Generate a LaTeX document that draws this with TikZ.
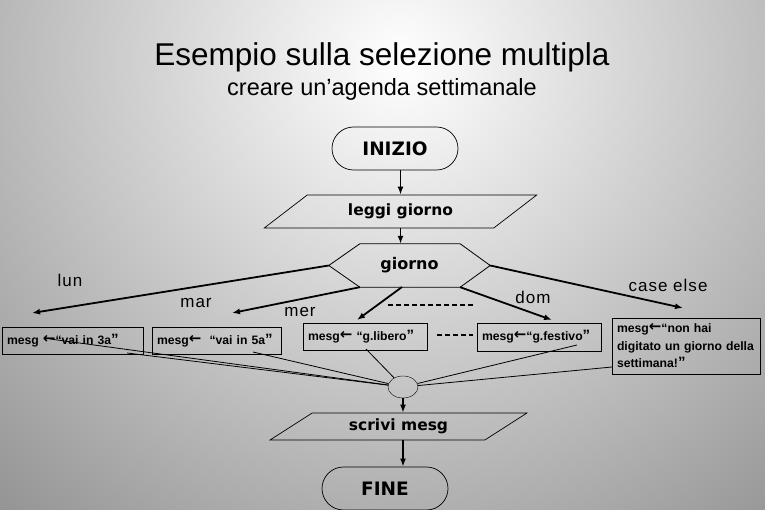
\documentclass[tikz,border=0pt]{standalone}
\usepackage{fontspec}
\setmainfont{Liberation Sans}
\newfontfamily\flowfont{DejaVu Sans}
\newfontfamily\symfont{DejaVu Sans}
\usetikzlibrary{positioning,arrows.meta,shapes.geometric,shapes.misc,calc}

\definecolor{bgouter}{RGB}{138,138,138}
\newcommand{\assign}{{\symfont\bfseries\fontsize{15}{15}\selectfont\raisebox{1pt}{←}}}
\newcommand{\closeq}{{\fontsize{15}{15}\selectfont”}}

\begin{document}
\begin{tikzpicture}[
          x=1pt, y=-1pt,
          every node/.style={font=\fontsize{12.2}{17.5}\selectfont\bfseries},
          term/.style={draw, line width=0.7pt, rounded rectangle, minimum width=126pt, minimum height=43pt, inner sep=0pt, font=\flowfont\bfseries\fontsize{18.5}{20}\selectfont},
          inout/.style={draw, line width=0.7pt, trapezium, trapezium stretches=true, trapezium left angle=32, trapezium right angle=148, inner sep=0pt, font=\flowfont\bfseries\fontsize{15.5}{18}\selectfont},
          choice/.style={minimum width=161pt, minimum height=43pt, inner sep=0pt, font=\flowfont\bfseries\fontsize{16}{18}\selectfont},
          msgbox/.style={draw, line width=0.7pt, inner sep=5pt, align=left},
          merge/.style={draw, ellipse, minimum width=30pt, minimum height=22pt, inner sep=0pt},
          lbl/.style={font=\fontsize{17}{20}\selectfont\addfontfeatures{LetterSpace=6}},
          arr/.style={-{Latex[length=8pt,width=6pt]}, line width=1.8pt},
          link/.style={line width=0.8pt}
      ]
        % background
        \useasboundingbox (0,0) rectangle (765,510);
        \fill[bgouter] (0,0) rectangle (765,510);
        \begin{scope}
          \clip (0,0) rectangle (765,510);
          \shade[inner color=white, outer color=bgouter] (400,60) circle (660);
        \end{scope}

        % titles
        \node[font=\fontsize{31.5}{34}\selectfont, anchor=base] (title) at (382,66) {Esempio sulla selezione multipla};
        \node[font=\fontsize{23.5}{26}\selectfont, anchor=base] (sub) at (382,96) {creare un’agenda settimanale};

        % flow
        \node[term] (inizio) at (395,148.5) {INIZIO};
        \node[inout, minimum width=273pt, minimum height=33pt] (leggi) at (400.5,211.5) {leggi giorno};
        \node[choice] (giorno) at (409.5,265.5) {giorno};
        \draw[line width=0.8pt] (giorno.west) -- ($(giorno.north west)+(31,0)$) -- ($(giorno.north east)+(-30,0)$)
          -- (giorno.east) -- ($(giorno.south east)+(-30,0)$) -- ($(giorno.south west)+(31,0)$) -- cycle;
        \coordinate (gw) at (giorno.west);
        \coordinate (gsw) at ($(giorno.south west)+(31,0)$);
        \coordinate (gs) at (402,287);
        \coordinate (gse) at ($(giorno.south east)+(-30,0)$);
        \coordinate (ge) at (giorno.east);

        \draw[arr] (leggi.north |- inizio.south) -- (leggi.north);
        \draw[arr] (leggi.south) -- (leggi.south |- giorno.north);

        % cases
        \coordinate (tlun) at (32,313);
        \coordinate (tmar) at (232,313);
        \coordinate (tmer) at (357,320);
        \coordinate (tdom) at (552,320);
        \coordinate (telse) at (683,308);
        \draw[arr] (gw) -- (tlun);
        \draw[arr] (gsw) -- (tmar);
        \draw[arr] (gs) -- (tmer);
        \draw[arr] (gse) -- (tdom);
        \draw[arr] (ge) -- (telse);
        \node[lbl] (llun) at (70,280) {lun};
        \node[lbl] (lmar) at (196,303) {mar};
        \node[lbl] (lmer) at (300,312) {mer};
        \node[lbl] (ldom) at (533,297) {dom};
        \node[lbl] (lelse) at (668,285) {case else};

        \coordinate (d1a) at (388,305);
        \coordinate (d1b) at (473,305);
        \coordinate (d2a) at (437,335);
        \coordinate (d2b) at (473,335);
        \draw[line width=1.6pt, dash pattern=on 5pt off 3pt] (d1a) -- (d1b);
        \draw[line width=1.6pt, dash pattern=on 5pt off 3pt] (d2a) -- (d2b);

        % messages
        \node[msgbox, text width=131pt, minimum height=27pt] (b1) at (72.5,340.5) {mesg \assign“vai in 3a\closeq};
        \node[msgbox, text width=119pt, minimum height=27pt] (b2) at (216.5,340.5) {mesg\assign\ \ “vai in 5a\closeq};
        \node[msgbox, text width=114pt, minimum height=27pt] (b3) at (365,336.5) {mesg\assign\ “g.libero\closeq};
        \node[msgbox, text width=114pt, minimum height=28pt] (b4) at (539,337) {mesg\assign“g.festivo\closeq};
        \node[msgbox, text width=138pt, minimum height=56pt] (b5) at (686,346) {mesg\assign“non hai\\digitato un giorno della\\settimana!\closeq};

        % merge
        \node[merge] (merge) at (403,387) {};
        \coordinate (m1) at (50,339);
        \coordinate (m2) at (127,353);
        \coordinate (m3) at (253,352);
        \coordinate (m4) at (366,349);
        \coordinate (m5) at (577,345);
        \coordinate (m6) at (612,367);
        \foreach \m in {m1,m2,m3,m4,m5,m6}
          \draw[link] (\m) -- (merge);

        \node[inout, minimum width=257pt, minimum height=27pt] (scrivi) at (398.5,426.5) {scrivi mesg};
        \node[term] (fine) at (385,488.5) {FINE};
        \draw[arr] (merge.south) -- (merge.south |- scrivi.north);
        \draw[arr] (merge.south |- scrivi.south) -- (merge.south |- fine.north);
      \end{tikzpicture}
\end{document}
